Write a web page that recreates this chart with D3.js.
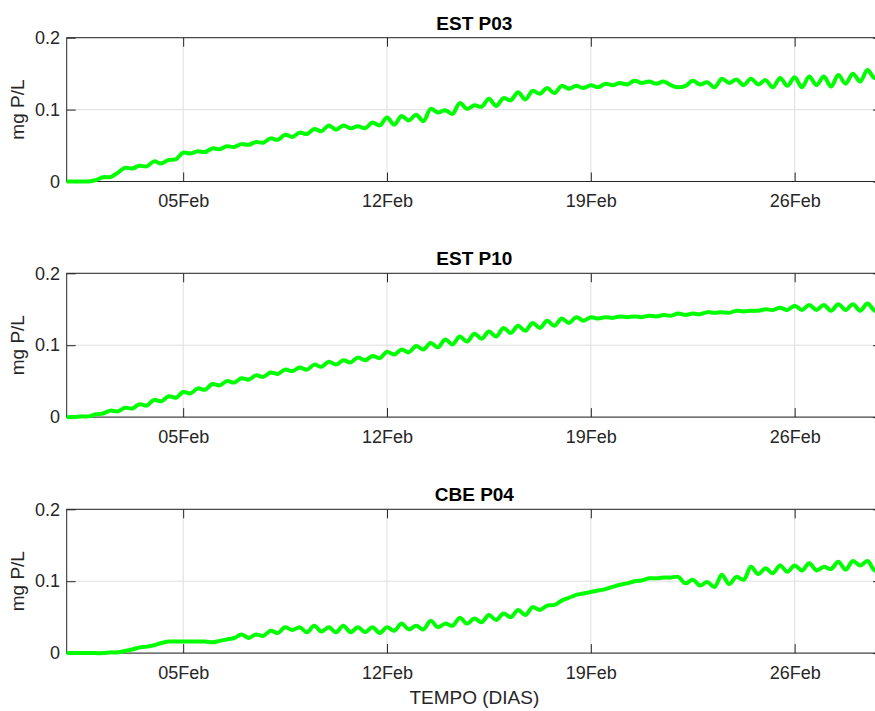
<!DOCTYPE html>
<html>
<head>
<meta charset="utf-8">
<script src="https://cdn.jsdelivr.net/npm/d3@7/dist/d3.min.js"></script>
<style>
    body { margin: 0; background: #fff; }
    svg text { font-family: "Liberation Sans", Arial, Helvetica, sans-serif; fill: #262626; }
</style>
</head>
<body>
<div id="chart"></div>
<script>
// model output, one value every 6 h starting 01 Feb 00:00
const stepHours = 6;
const startDate = Date.UTC(2016, 1, 1);
const endDate = Date.UTC(2016, 1, 29);

const titles = ["EST P03", "EST P10", "CBE P04"];
const xTickLabels = ["05Feb", "12Feb", "19Feb", "26Feb"];
const yTicks = [0, 0.1, 0.2];
const yLabel = "mg P/L";
const xLabel = "TEMPO (DIAS)";

const estP03 = [
    0.000, 0.000, 0.000, 0.000,
    0.002, 0.006, 0.006, 0.012,
    0.019, 0.018, 0.022, 0.021,
    0.028, 0.025, 0.030, 0.031,
    0.040, 0.039, 0.042, 0.041,
    0.046, 0.045, 0.049, 0.048,
    0.052, 0.051, 0.055, 0.054,
    0.060, 0.058, 0.065, 0.062,
    0.068, 0.066, 0.073, 0.070,
    0.078, 0.072, 0.078, 0.074,
    0.077, 0.074, 0.082, 0.078,
    0.089, 0.079, 0.091, 0.085,
    0.093, 0.084, 0.101, 0.096,
    0.099, 0.094, 0.109, 0.101,
    0.106, 0.104, 0.115, 0.105,
    0.116, 0.113, 0.124, 0.114,
    0.126, 0.122, 0.130, 0.123,
    0.133, 0.129, 0.133, 0.130,
    0.134, 0.131, 0.136, 0.134,
    0.137, 0.135, 0.140, 0.137,
    0.139, 0.136, 0.139, 0.134,
    0.131, 0.133, 0.140, 0.135,
    0.138, 0.131, 0.143, 0.137,
    0.142, 0.134, 0.143, 0.135,
    0.141, 0.131, 0.144, 0.133,
    0.145, 0.131, 0.146, 0.134,
    0.146, 0.132, 0.148, 0.136,
    0.150, 0.139, 0.155, 0.144,
    0.150
];

const estP10 = [
    0.000, 0.000, 0.001, 0.001,
    0.004, 0.005, 0.009, 0.008,
    0.013, 0.012, 0.018, 0.016,
    0.024, 0.022, 0.029, 0.027,
    0.035, 0.033, 0.040, 0.038,
    0.046, 0.044, 0.050, 0.048,
    0.054, 0.052, 0.058, 0.056,
    0.062, 0.060, 0.066, 0.064,
    0.069, 0.066, 0.073, 0.070,
    0.077, 0.073, 0.079, 0.076,
    0.083, 0.079, 0.085, 0.082,
    0.091, 0.087, 0.094, 0.090,
    0.099, 0.094, 0.103, 0.097,
    0.108, 0.101, 0.112, 0.105,
    0.116, 0.109, 0.119, 0.112,
    0.124, 0.117, 0.127, 0.120,
    0.131, 0.124, 0.134, 0.127,
    0.137, 0.131, 0.139, 0.134,
    0.139, 0.137, 0.139, 0.138,
    0.140, 0.139, 0.140, 0.139,
    0.141, 0.140, 0.142, 0.141,
    0.144, 0.142, 0.144, 0.143,
    0.146, 0.145, 0.146, 0.145,
    0.148, 0.147, 0.148, 0.148,
    0.150, 0.149, 0.152, 0.149,
    0.155, 0.149, 0.156, 0.149,
    0.156, 0.148, 0.157, 0.149,
    0.157, 0.148, 0.158, 0.148,
    0.147
];

const cbeP04 = [
    0.000, 0.000, 0.000, 0.000,
    0.000, 0.000, 0.001, 0.001,
    0.003, 0.005, 0.008, 0.009,
    0.011, 0.014, 0.016, 0.016,
    0.016, 0.016, 0.016, 0.016,
    0.015, 0.017, 0.019, 0.021,
    0.026, 0.021, 0.026, 0.024,
    0.031, 0.028, 0.036, 0.032,
    0.036, 0.029, 0.038, 0.030,
    0.036, 0.029, 0.038, 0.029,
    0.036, 0.029, 0.036, 0.028,
    0.036, 0.031, 0.041, 0.033,
    0.038, 0.033, 0.045, 0.036,
    0.041, 0.038, 0.049, 0.041,
    0.048, 0.043, 0.053, 0.046,
    0.055, 0.050, 0.060, 0.053,
    0.064, 0.060, 0.066, 0.067,
    0.073, 0.077, 0.081, 0.083,
    0.085, 0.087, 0.089, 0.092,
    0.095, 0.097, 0.100, 0.101,
    0.104, 0.104, 0.105, 0.105,
    0.106, 0.097, 0.102, 0.094,
    0.099, 0.092, 0.109, 0.096,
    0.106, 0.102, 0.120, 0.110,
    0.118, 0.111, 0.122, 0.113,
    0.122, 0.115, 0.125, 0.115,
    0.120, 0.117, 0.127, 0.116,
    0.128, 0.122, 0.128, 0.115,
    0.115
];

const series = [estP03, estP10, cbeP04];

const width = 875;
const height = 711;
const left = 66.7;
const right = 882; // axes box runs a little past the page edge
const panelTops = [37.7, 273.3, 509.3];
const panelHeight = 143.8;
const tickLen = 9;

const parseTick = d3.utcParse("%d%b%Y");
const xTickValues = xTickLabels.map(s => parseTick(s + "2016"));

const svg = d3.select("#chart").append("svg")
    .attr("width", width)
    .attr("height", height);

const x = d3.scaleUtc()
    .domain([new Date(startDate), new Date(endDate)])
    .range([left, right]);

series.forEach((values, k) => {
    const top = panelTops[k];
    const bottom = top + panelHeight;

    const y = d3.scaleLinear()
        .domain([0, 0.2])
        .range([bottom, top]);

    const data = values.map((v, i) => ({
        date: new Date(startDate + i * stepHours * 3600 * 1000),
        value: v
    }));

    const g = svg.append("g");

    // grid
    g.append("g")
        .selectAll("line")
        .data(xTickValues)
        .enter()
        .append("line")
        .attr("x1", d => x(d)).attr("x2", d => x(d))
        .attr("y1", top).attr("y2", bottom)
        .attr("stroke", "#dedede")
        .attr("stroke-width", 1);

    g.append("g")
        .selectAll("line")
        .data(yTicks)
        .enter()
        .append("line")
        .attr("x1", left).attr("x2", right)
        .attr("y1", d => y(d)).attr("y2", d => y(d))
        .attr("stroke", "#dedede")
        .attr("stroke-width", 1);

    // axes, ticks pointing inside like matlab
    const xBottom = g.append("g")
        .attr("transform", `translate(0, ${bottom})`)
        .call(d3.axisBottom(x)
            .tickValues(xTickValues)
            .tickFormat(d3.utcFormat("%d%b"))
            .tickSize(-tickLen)
            .tickSizeOuter(0)
            .tickPadding(13));

    const xTop = g.append("g")
        .attr("transform", `translate(0, ${top})`)
        .call(d3.axisTop(x)
            .tickValues(xTickValues)
            .tickFormat("")
            .tickSize(-tickLen)
            .tickSizeOuter(0));

    const yLeft = g.append("g")
        .attr("transform", `translate(${left}, 0)`)
        .call(d3.axisLeft(y)
            .tickValues(yTicks)
            .tickFormat(d => d === 0 ? "0" : d3.format(".1f")(d))
            .tickSize(-tickLen)
            .tickSizeOuter(0)
            .tickPadding(6.7));

    const yRight = g.append("g")
        .attr("transform", `translate(${right}, 0)`)
        .call(d3.axisRight(y)
            .tickValues(yTicks)
            .tickFormat("")
            .tickSize(-tickLen)
            .tickSizeOuter(0));

    [xBottom, xTop, yLeft, yRight].forEach(a => {
        a.select(".domain").remove();
        a.selectAll(".tick line").attr("stroke", "#262626");
        a.selectAll(".tick text")
            .attr("fill", "#262626")
            .style("font-size", "18px");
    });

    // box
    g.append("rect")
        .attr("x", left)
        .attr("y", top)
        .attr("width", right - left)
        .attr("height", panelHeight)
        .attr("fill", "none")
        .attr("stroke", "#262626")
        .attr("stroke-width", 1);

    const line = d3.line()
        .x(d => x(d.date))
        .y(d => y(d.value))
        .curve(d3.curveCatmullRom.alpha(0.5));

    g.append("path")
        .datum(data)
        .attr("d", line)
        .attr("fill", "none")
        .attr("stroke", "#00ff00")
        .attr("stroke-width", 4)
        .attr("stroke-linejoin", "round");

    g.append("text")
        .attr("x", (left + right) / 2)
        .attr("y", top - 8)
        .attr("text-anchor", "middle")
        .style("font-size", "19px")
        .style("font-weight", "bold")
        .style("fill", "#000")
        .text(titles[k]);

    g.append("text")
        .attr("transform", `translate(24, ${(top + bottom) / 2}) rotate(-90)`)
        .attr("text-anchor", "middle")
        .style("font-size", "19px")
        .text(yLabel);
});

svg.append("text")
    .attr("x", (left + right) / 2)
    .attr("y", 704)
    .attr("text-anchor", "middle")
    .style("font-size", "19px")
    .text(xLabel);
</script>
</body>
</html>
